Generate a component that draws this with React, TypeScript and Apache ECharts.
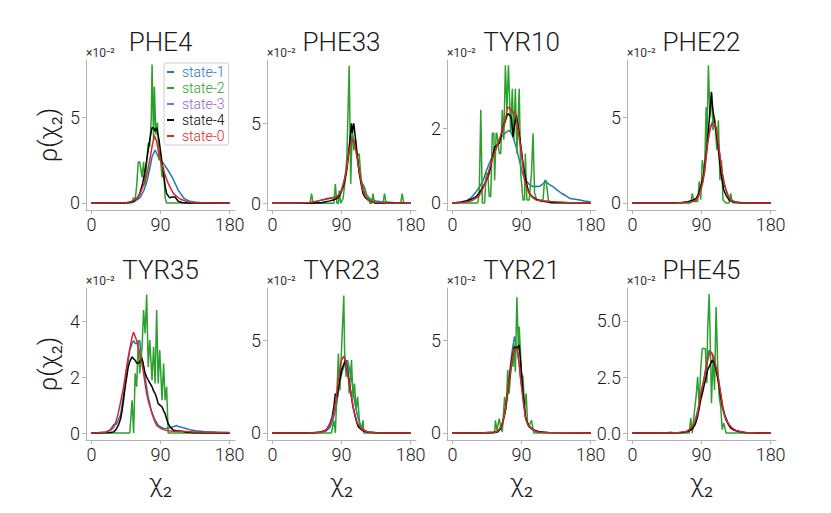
import React, { useEffect, useRef } from 'react';
import * as echarts from 'echarts';

const STATES = ['state-1', 'state-2', 'state-3', 'state-4', 'state-0'];
const COLORS = ['#1f77b4', '#2ca02c', '#9467bd', '#000000', '#d62728'];
const PANEL_TITLES = ['PHE4', 'PHE33', 'TYR10', 'PHE22', 'TYR35', 'TYR23', 'TYR21', 'PHE45'];
const X_TICKS = [0, 90, 180];
const Y_TICKS = [[0, 5], [0, 5], [0, 2], [0, 5], [0, 2, 4], [0, 5], [0, 5], [0, 2.5, 5]];
const Y_DECIMALS = [0, 0, 0, 0, 0, 0, 0, 1];
const Y_MAX = [8.36, 8.96, 3.84, 8.36, 5.18, 7.8, 7.8, 6.47];
const Y_MIN = [-0.41, -0.42, -0.19, -0.41, -0.25, -0.38, -0.38, -0.31];

// values in units of 1e-2, x in degrees
const PHE4_S1 = [[0,0],[40,0],[55,0.05],[63,0.3],[68,0.7],[72,1.2],[76,2.0],[79,2.7],[83,3.1],[87,2.7],[90,2.5],[94,2.3],[97,2.1],[100,1.9],[104,1.6],[107,1.35],[110,1.05],[113,0.75],[117,0.5],[120,0.3],[124,0.18],[128,0.1],[135,0.06],[141,0.03],[150,0.02],[160,0.01],[180,0]];
const PHE4_S2 = [[0,0],[52,0],[55,0.3],[57,0.2],[59,1.0],[61,2.4],[63,2.4],[66,1.5],[68,2.4],[70,1.0],[72,2.4],[74,3.5],[76,3.3],[78,5.0],[79,8.1],[81,3.7],[82,6.8],[84,4.0],[86,4.7],[88,2.5],[89,3.1],[92,1.5],[94,2.1],[96,0.3],[98,0],[180,0]];
const PHE4_S4 = [[0,0],[45,0],[55,0.1],[60,0.3],[63,0.55],[67,1.2],[70,1.9],[73,2.8],[76,3.7],[79,4.4],[81,4.4],[83,4.2],[85,4.4],[88,3.7],[91,2.7],[94,1.7],[96,1.0],[98,0.55],[102,0.3],[105,0.35],[109,0.35],[113,0.1],[118,0.03],[125,0],[180,0]];
const PHE4_S0 = [[0,0],[45,0.01],[50,0.05],[55,0.15],[60,0.3],[63,0.5],[67,0.95],[72,1.6],[76,2.5],[79,3.3],[82,3.95],[85,3.6],[87,3.1],[90,2.5],[94,1.9],[97,1.5],[100,1.15],[104,0.8],[107,0.55],[112,0.35],[117,0.2],[125,0.08],[133,0.03],[145,0.01],[180,0]];

const PHE33_S1 = [[0,0],[40,0.01],[50,0.05],[60,0.15],[70,0.25],[80,0.35],[86,0.5],[90,0.8],[94,1.5],[97,2.4],[100,3.4],[102,4.0],[104,4.2],[106,4.0],[108,3.5],[111,2.7],[114,1.9],[117,1.2],[120,0.7],[124,0.4],[128,0.25],[135,0.15],[142,0.1],[149,0.08],[160,0.04],[170,0.02],[180,0.02]];
const PHE33_S2 = [[0,0],[49,0],[51,0.6],[53,0],[80,0],[82,1.2],[84,0],[86,0],[87,0.8],[89,0],[92,0.3],[95,1.5],[97,2.9],[100,8.6],[102,1.2],[104,4.8],[106,3.3],[108,4.0],[110,2.9],[113,3.1],[116,1.2],[118,1.2],[120,1.0],[123,0.5],[125,0.4],[127,0],[129,0],[131,0.6],[133,0],[144,0],[146,0.6],[148,0],[167,0],[169,0.6],[171,0],[180,0]];
const PHE33_S4 = [[0,0],[50,0],[65,0.05],[75,0.15],[79,0.2],[84,0.3],[88,0.5],[92,1.0],[95,1.6],[97,2.1],[99,3.0],[101,4.0],[103,5.0],[104,4.4],[106,5.0],[109,3.7],[111,2.8],[113,1.9],[116,1.1],[118,0.6],[121,0.35],[125,0.2],[130,0.08],[135,0.02],[180,0]];
const PHE33_S0 = [[0,0],[40,0.02],[49,0.05],[60,0.15],[71,0.3],[78,0.35],[84,0.4],[87,0.55],[90,0.8],[94,1.5],[97,2.3],[99,3.0],[101,3.5],[104,4.05],[107,3.7],[110,3.0],[112,2.3],[115,1.5],[118,0.8],[121,0.45],[125,0.2],[130,0.1],[136,0.05],[150,0.02],[180,0]];

const TYR10_S1 = [[0,0],[10,0.02],[18,0.05],[25,0.15],[31,0.3],[36,0.45],[40,0.6],[44,0.85],[48,1.06],[52,1.25],[55,1.4],[58,1.55],[61,1.7],[65,1.8],[70,1.9],[74,1.95],[77,1.87],[80,1.7],[83,1.5],[86,1.25],[90,0.9],[93,0.7],[96,0.6],[100,0.5],[105,0.44],[109,0.45],[113,0.44],[117,0.5],[122,0.57],[126,0.5],[131,0.44],[136,0.35],[142,0.26],[147,0.2],[153,0.12],[160,0.1],[166,0.08],[172,0.05],[179,0.03],[180,0.02]];
const TYR10_S2 = [[0,0],[33,0],[35,0.25],[37,2.5],[39,0],[42,0],[44,0.8],[46,0.8],[48,0.17],[50,0.17],[52,1.87],[54,1.87],[55,0.6],[57,1.87],[58,1.87],[61,1.33],[63,1.33],[65,2.5],[67,1.7],[69,3.7],[71,2.5],[73,3.7],[76,1.87],[78,3.07],[80,1.7],[82,3.07],[84,1.33],[87,3.07],[89,0.8],[92,0.08],[94,0.08],[95,1.33],[97,0.08],[100,0.08],[103,0.8],[105,1.87],[107,0.26],[110,0.08],[118,0.08],[120,0.6],[122,0.6],[125,0.08],[127,0],[180,0]];
const TYR10_S4 = [[0,0],[10,0.02],[18,0.05],[25,0.1],[31,0.17],[36,0.3],[40,0.44],[44,0.6],[48,0.8],[52,1.2],[55,1.5],[58,1.55],[61,1.6],[64,1.85],[66,2.04],[69,2.2],[72,2.4],[75,2.35],[77,2.27],[79,1.78],[81,2.1],[83,2.36],[85,2.15],[87,1.87],[90,1.4],[92,1.06],[94,0.8],[96,0.57],[98,0.4],[100,0.26],[104,0.17],[109,0.1],[115,0.05],[122,0.03],[130,0.01],[180,0]];
const TYR10_S0 = [[0,0],[15,0.02],[22,0.04],[27,0.08],[31,0.13],[35,0.2],[40,0.4],[44,0.6],[48,0.9],[53,1.24],[57,1.45],[61,1.7],[65,1.95],[68,2.13],[70,2.35],[72,2.58],[74,2.55],[77,2.49],[79,2.42],[81,2.45],[83,2.3],[85,2.04],[87,1.75],[90,1.33],[92,0.95],[94,0.6],[97,0.4],[100,0.26],[104,0.15],[109,0.08],[115,0.06],[122,0.05],[128,0.04],[135,0.03],[150,0.01],[180,0]];

const PHE22_S1 = [[0,0],[60,0.01],[70,0.04],[78,0.1],[83,0.2],[86,0.4],[89,0.75],[92,1.3],[94,1.9],[96,2.7],[98,3.5],[100,4.1],[102,4.5],[105,4.8],[107,4.7],[109,4.4],[111,3.8],[113,3.1],[115,2.4],[117,1.75],[119,1.2],[122,0.75],[125,0.4],[128,0.2],[133,0.08],[140,0.03],[150,0.01],[180,0]];
const PHE22_S2 = [[0,0],[76,0],[78,0.56],[80,0.08],[85,0.08],[87,1.25],[89,0.2],[91,2.5],[93,2.0],[94,1.73],[96,5.6],[97,3.5],[99,8.05],[101,5.0],[103,6.4],[105,4.26],[107,5.0],[110,3.1],[112,4.84],[114,1.34],[116,2.5],[118,0.17],[122,0],[126,0],[128,0.56],[130,0.05],[132,0],[180,0]];
const PHE22_S4 = [[0,0],[50,0.01],[65,0.03],[72,0.08],[78,0.15],[83,0.27],[86,0.5],[89,0.95],[92,1.5],[94,2.1],[96,2.9],[98,3.7],[100,4.8],[101,5.4],[103,6.5],[104,5.8],[105,5.4],[107,4.8],[108,4.45],[110,3.9],[111,3.5],[113,2.7],[115,1.9],[117,1.3],[119,0.76],[122,0.45],[126,0.17],[130,0.08],[135,0.05],[142,0.02],[180,0]];
const PHE22_S0 = [[0,0],[60,0.01],[70,0.03],[74,0.05],[80,0.1],[83,0.17],[86,0.4],[89,0.76],[92,1.3],[94,1.9],[96,2.7],[98,3.5],[100,4.05],[102,4.45],[104,4.65],[106,4.7],[108,4.55],[109,4.36],[111,3.8],[113,3.1],[115,2.4],[117,1.73],[120,1.1],[122,0.76],[125,0.4],[128,0.17],[133,0.06],[139,0.02],[180,0]];

const TYR35_S1 = [[0,0],[10,0.01],[18,0.03],[24,0.1],[29,0.3],[32,0.3],[35,0.45],[38,0.65],[41,1.2],[44,1.77],[47,2.4],[50,2.96],[53,3.2],[55,3.3],[57,3.2],[59,3.2],[61,3.25],[63,3.3],[65,2.8],[68,2.36],[71,1.8],[74,1.29],[78,0.8],[83,0.45],[88,0.25],[94,0.16],[98,0.17],[102,0.19],[106,0.22],[111,0.27],[114,0.22],[117,0.21],[122,0.17],[128,0.12],[136,0.08],[146,0.05],[155,0.04],[163,0.03],[172,0.02],[180,0.01]];
const TYR35_S2 = [[0,0],[50,0],[53,1.17],[55,0],[57,2.13],[59,1.65],[61,3.32],[63,2.13],[66,3.08],[68,4.39],[70,3.56],[72,4.95],[74,2.36],[76,3.32],[79,1.89],[81,3.08],[83,1.77],[85,4.39],[87,1.77],[89,2.96],[92,1.17],[94,2.48],[96,1.17],[98,1.65],[100,0],[180,0]];
const TYR35_S4 = [[0,0],[15,0.01],[25,0.02],[29,0.04],[32,0.12],[35,0.27],[38,0.5],[40,0.8],[42,1.2],[44,1.65],[46,2.0],[48,2.36],[50,2.55],[53,2.72],[55,2.65],[57,2.6],[59,2.5],[61,2.48],[63,2.55],[66,2.66],[68,2.4],[70,2.13],[72,2.0],[74,1.89],[77,1.75],[79,1.65],[81,1.5],[83,1.41],[85,1.25],[87,1.05],[90,0.98],[92,0.93],[94,0.8],[96,0.69],[98,0.5],[100,0.33],[103,0.2],[107,0.1],[111,0.08],[115,0.07],[120,0.05],[124,0.03],[135,0.01],[180,0]];
const TYR35_S0 = [[0,0],[8,0.01],[12,0.02],[20,0.04],[25,0.1],[29,0.2],[32,0.4],[35,0.7],[38,1.1],[42,1.65],[45,2.2],[48,2.72],[51,3.15],[53,3.44],[55,3.6],[57,3.45],[59,3.3],[61,3.05],[63,2.84],[66,2.45],[68,2.13],[70,1.75],[72,1.4],[75,1.05],[79,0.7],[82,0.45],[85,0.27],[90,0.17],[94,0.12],[100,0.08],[107,0.06],[115,0.05],[124,0.05],[132,0.04],[141,0.04],[150,0.03],[158,0.03],[170,0.02],[180,0.02]];

const TYR23_S1 = [[0,0],[55,0.01],[65,0.04],[70,0.1],[75,0.3],[78,0.6],[82,1.2],[85,1.9],[88,2.8],[91,3.3],[94,3.7],[97,3.92],[99,3.7],[101,3.3],[104,2.7],[106,2.0],[108,1.5],[111,0.9],[113,0.6],[116,0.3],[120,0.12],[125,0.05],[135,0.01],[180,0]];
const TYR23_S2 = [[0,0],[77,0],[80,0.68],[82,0],[84,2.12],[86,4.28],[88,2.3],[90,4.46],[93,7.4],[94,4.46],[96,3.02],[98,3.92],[100,2.12],[103,3.92],[105,1.94],[107,2.66],[109,1.22],[111,1.94],[114,0.32],[116,0.2],[118,0.68],[119,0],[180,0]];
const TYR23_S4 = [[0,0],[55,0.01],[62,0.05],[68,0.12],[71,0.2],[75,0.5],[78,0.9],[80,1.4],[82,2.12],[84,1.94],[87,2.66],[90,3.38],[93,3.7],[95,3.92],[97,3.5],[99,3.02],[101,2.5],[103,1.94],[105,1.4],[108,0.86],[110,0.55],[112,0.32],[116,0.18],[119,0.1],[125,0.04],[135,0.01],[180,0]];
const TYR23_S0 = [[0,0],[50,0.01],[62,0.04],[68,0.1],[71,0.2],[74,0.4],[77,0.68],[80,1.1],[82,1.58],[84,2.2],[86,2.84],[88,3.4],[90,3.92],[93,4.14],[96,3.74],[98,3.2],[100,2.66],[103,1.95],[105,1.4],[108,0.9],[110,0.6],[113,0.38],[116,0.23],[120,0.12],[125,0.05],[135,0.01],[180,0]];

const TYR21_S1 = [[0,0],[45,0.01],[55,0.04],[60,0.1],[63,0.25],[66,0.6],[70,1.4],[72,2.1],[74,3.0],[76,3.8],[78,4.46],[81,5.2],[84,4.46],[87,3.74],[89,2.9],[92,1.94],[94,1.3],[96,0.77],[99,0.45],[103,0.25],[107,0.12],[112,0.05],[120,0.02],[180,0]];
const TYR21_S2 = [[0,0],[55,0],[56,0.68],[58,0.14],[61,0.77],[63,0.3],[65,0.05],[68,1.94],[70,1.22],[72,3.38],[74,2.12],[77,3.92],[79,3.56],[80,4.82],[82,3.3],[84,7.3],[86,4.46],[87,5.72],[90,3.2],[92,3.02],[94,1.4],[96,2.12],[98,0.5],[100,0.4],[103,0.68],[106,0],[180,0]];
const TYR21_S4 = [[0,0],[45,0.01],[53,0.02],[59,0.05],[62,0.2],[65,0.5],[68,1.0],[70,1.58],[72,2.2],[74,2.84],[76,3.5],[78,4.1],[81,4.64],[84,4.55],[87,4.73],[89,3.74],[91,2.7],[92,2.12],[94,1.4],[95,0.86],[98,0.5],[100,0.32],[104,0.2],[107,0.14],[112,0.08],[118,0.05],[125,0.02],[180,0]];
const TYR21_S0 = [[0,0],[40,0.01],[48,0.04],[57,0.05],[60,0.15],[63,0.32],[66,0.65],[68,1.04],[70,1.6],[72,2.3],[75,3.0],[77,3.74],[80,4.46],[82,4.55],[85,4.46],[87,3.7],[88,3.2],[90,2.5],[92,1.76],[94,1.15],[96,0.68],[99,0.4],[103,0.23],[107,0.12],[111,0.05],[120,0.02],[180,0]];

const PHE45_S1 = [[0,0],[45,0.01],[50,0.04],[53,0.01],[65,0.03],[72,0.08],[78,0.25],[82,0.6],[87,1.3],[91,2.0],[94,2.6],[97,3.2],[100,3.7],[102,3.6],[104,3.5],[107,3.1],[111,2.6],[114,1.9],[117,1.3],[120,0.85],[124,0.5],[128,0.25],[135,0.1],[142,0.04],[150,0.01],[180,0]];
const PHE45_S2 = [[0,0],[74,0],[76,0.67],[78,0],[81,1.04],[83,1.63],[85,2.51],[87,1.18],[89,2.88],[91,3.77],[95,3.77],[97,2.22],[98,4.59],[100,6.2],[102,3.1],[103,1.33],[105,3.4],[107,1.92],[109,5.62],[111,3.1],[113,1.63],[115,1.18],[117,0.15],[119,0.44],[122,0],[180,0]];
const PHE45_S4 = [[0,0],[55,0.01],[65,0.03],[72,0.07],[78,0.18],[82,0.4],[85,0.74],[87,1.1],[89,1.48],[92,1.9],[94,2.22],[96,2.5],[98,2.81],[101,3.03],[104,3.25],[107,3.1],[109,2.81],[111,2.45],[113,2.07],[115,1.6],[117,1.18],[120,0.8],[122,0.59],[125,0.38],[128,0.22],[133,0.12],[139,0.07],[145,0.03],[180,0]];
const PHE45_S0 = [[0,0],[50,0.01],[60,0.03],[70,0.07],[74,0.15],[78,0.3],[82,0.55],[85,0.89],[87,1.3],[89,1.78],[92,2.2],[94,2.51],[96,2.9],[98,3.25],[100,3.5],[102,3.62],[104,3.55],[106,3.4],[108,3.1],[111,2.66],[113,2.2],[115,1.78],[117,1.3],[119,0.89],[122,0.6],[126,0.37],[130,0.22],[135,0.12],[142,0.06],[148,0.03],[160,0.01],[180,0]];

const NO_DATA: number[][] = [];

const PANEL_DATA = [
  [PHE4_S1, PHE4_S2, NO_DATA, PHE4_S4, PHE4_S0],
  [PHE33_S1, PHE33_S2, NO_DATA, PHE33_S4, PHE33_S0],
  [TYR10_S1, TYR10_S2, NO_DATA, TYR10_S4, TYR10_S0],
  [PHE22_S1, PHE22_S2, NO_DATA, PHE22_S4, PHE22_S0],
  [TYR35_S1, TYR35_S2, NO_DATA, TYR35_S4, TYR35_S0],
  [TYR23_S1, TYR23_S2, NO_DATA, TYR23_S4, TYR23_S0],
  [TYR21_S1, TYR21_S2, NO_DATA, TYR21_S4, TYR21_S0],
  [PHE45_S1, PHE45_S2, NO_DATA, PHE45_S4, PHE45_S0],
];

const FONT = 'Roboto, "Liberation Sans", sans-serif';
const FW = 300;
const AXIS_GRAY = '#b3b3b3';
const TEXT_COLOR = '#1a1a1a';

const GRID_LEFT = [86, 267, 447, 627];
const GRID_TOP = [60, 288];
const GRID_W = 149;
const GRID_H = [150, 152];

function buildOption() {
  const grid: any[] = [];
  const xAxis: any[] = [];
  const yAxis: any[] = [];
  const series: any[] = [];
  const graphic: any[] = [];

  PANEL_TITLES.forEach((title, i) => {
    const col = i % 4;
    const row = Math.floor(i / 4);
    const left = GRID_LEFT[col];
    const top = GRID_TOP[row];
    const h = GRID_H[row];
    grid.push({ left, top, width: GRID_W, height: h, containLabel: false });
    const axisCommon = {
      axisLine: { show: true, onZero: false, lineStyle: { color: AXIS_GRAY, width: 1 } },
      axisTick: { show: true, length: 4, lineStyle: { color: AXIS_GRAY, width: 1 } },
      splitLine: { show: false },
    };
    xAxis.push({
      type: 'value', gridIndex: i, min: -7, max: 187,
      ...axisCommon,
      axisTick: { ...axisCommon.axisTick, customValues: X_TICKS },
      axisLabel: { customValues: X_TICKS, fontSize: 18, fontFamily: FONT, fontWeight: FW, color: TEXT_COLOR, margin: 5 },
    });
    yAxis.push({
      type: 'value', gridIndex: i, min: Y_MIN[i], max: Y_MAX[i],
      ...axisCommon,
      axisTick: { ...axisCommon.axisTick, customValues: Y_TICKS[i] },
      axisLabel: {
        customValues: Y_TICKS[i], fontSize: 18, fontFamily: FONT, fontWeight: FW, color: TEXT_COLOR, margin: 6,
        formatter: (v: number) => v.toFixed(Y_DECIMALS[i]),
      },
    });
    PANEL_DATA[i].forEach((data, s) => {
      series.push({
        type: 'line', name: STATES[s], xAxisIndex: i, yAxisIndex: i, data,
        symbol: 'none', showSymbol: false, silent: true,
        lineStyle: { color: COLORS[s], width: 1.5 },
        itemStyle: { color: COLORS[s] },
      });
    });
    const cx = left + GRID_W / 2;
    graphic.push({
      type: 'text', x: cx, y: top - 18,
      style: { text: title, fontSize: 26, fontFamily: FONT, fontWeight: FW, fill: TEXT_COLOR,
        align: 'center', verticalAlign: 'middle', textAlign: 'center', textVerticalAlign: 'middle' },
    });
    graphic.push({
      type: 'text', x: left, y: top - 7,
      style: { text: '×10⁻²', fontSize: 12, fontFamily: FONT, fill: '#333',
        align: 'left', verticalAlign: 'middle', textAlign: 'left', textVerticalAlign: 'middle' },
    });
    if (col === 0) {
      graphic.push({
        type: 'text', x: left - 38, y: top + h / 2, rotation: Math.PI / 2,
        style: { text: 'ρ(χ₂)', fontSize: 26, fontFamily: FONT, fontWeight: FW, fill: TEXT_COLOR,
          align: 'center', verticalAlign: 'middle', textAlign: 'center', textVerticalAlign: 'middle' },
      });
    }
    if (row === 1) {
      graphic.push({
        type: 'text', x: cx, y: top + h + 43,
        style: { text: 'χ₂', fontSize: 26, fontFamily: FONT, fontWeight: FW, fill: TEXT_COLOR,
          align: 'center', verticalAlign: 'middle', textAlign: 'center', textVerticalAlign: 'middle' },
      });
    }
  });

  return {
    animation: false,
    backgroundColor: '#ffffff',
    grid, xAxis, yAxis, series, graphic,
    legend: {
      orient: 'vertical', left: 164, top: 63, icon: 'rect', itemWidth: 7, itemHeight: 2, itemGap: 2,
      padding: [2, 4, 2, 3], borderColor: '#cccccc', borderWidth: 1, borderRadius: 2,
      backgroundColor: 'rgba(255,255,255,0.85)', selectedMode: false,
      textStyle: { fontSize: 14, fontFamily: FONT, fontWeight: FW, padding: [0, 0, 0, 3] },
      data: STATES.map((n, k) => ({ name: n, textStyle: { color: COLORS[k] } })),
    },
  };
}

export default function App() {
  const ref = useRef<HTMLDivElement>(null);
  useEffect(() => {
    if (!ref.current) return;
    const chart = echarts.init(ref.current, undefined, { renderer: 'svg' });
    chart.setOption(buildOption() as any);
    return () => chart.dispose();
  }, []);
  return <div ref={ref} style={{ position: 'absolute', left: 0, top: 0, width: 831, height: 513 }} />;
}
